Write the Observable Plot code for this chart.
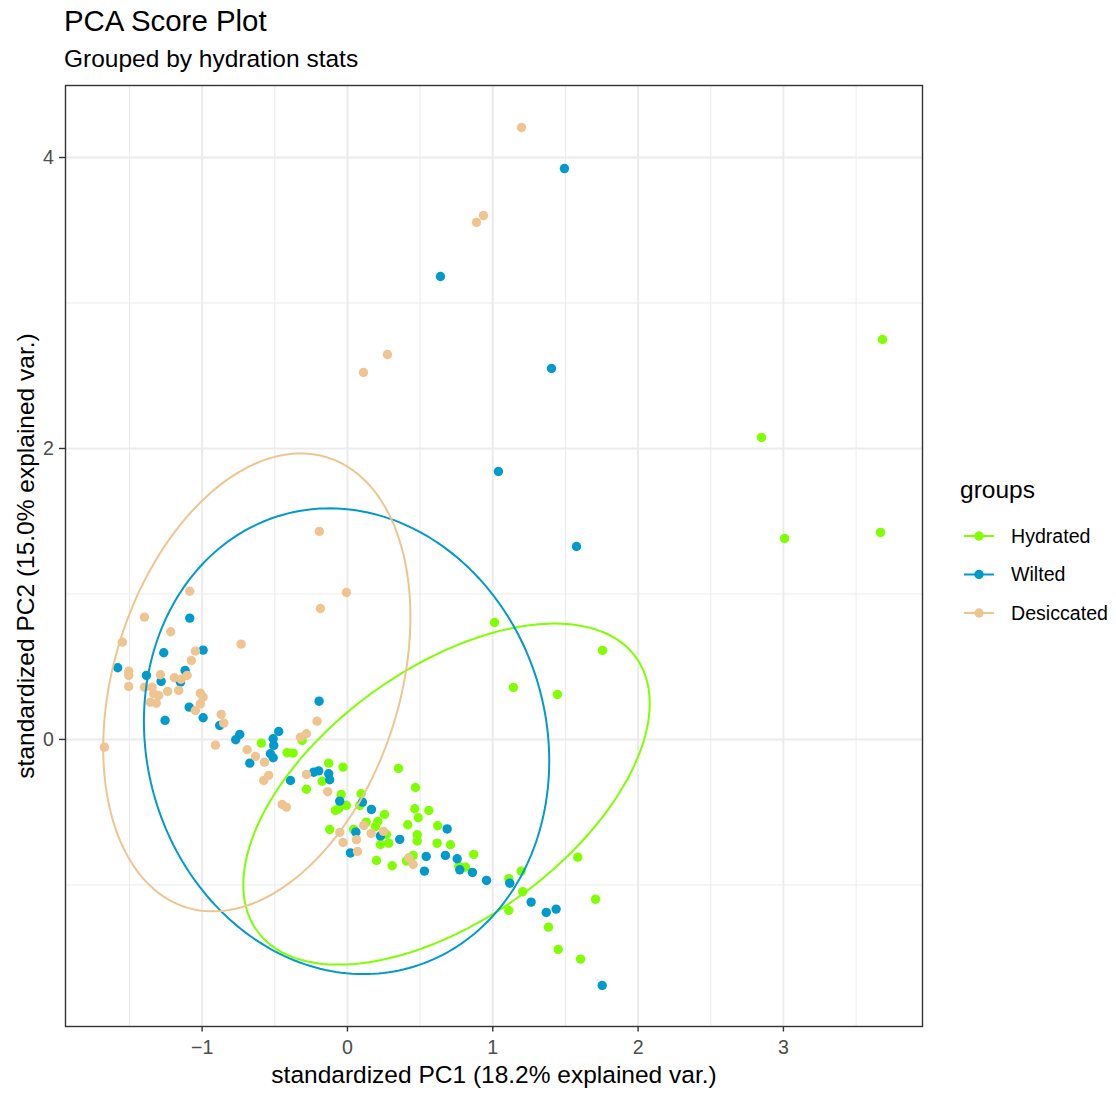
<!DOCTYPE html>
<html>
<head>
<meta charset="utf-8">
<script src="https://cdn.jsdelivr.net/npm/d3@7"></script>
<script src="https://cdn.jsdelivr.net/npm/@observablehq/plot@0.6"></script>
<style>
  html, body { margin: 0; padding: 0; background: #ffffff; }
  svg { display: block; }
</style>
</head>
<body>
<div id="chart"></div>
<script>
// ---------- data ----------
const groups = ["Hydrated", "Wilted", "Desiccated"];
const groupColors = ["#7FFF00", "#009ACD", "#EEC591"];

const hydratedPC1 = [3.682, 2.849, 3.668, 3.008, 1.012, 1.755, 1.142, 1.445, -0.592, -0.415, -0.374, -0.312, -0.282, -0.129, -0.030, -0.174, 0.351, -0.043, 0.094, 0.468, -0.007, -0.060, -0.083, 0.085, 0.255, 0.463, 0.560, 0.487, 0.129, 0.209, 0.193, 0.415, 0.621, -0.122, 0.043, 0.268, 0.480, 0.480, 0.227, 0.284, 0.617, 0.709, 0.452, 0.406, 0.200, 0.308, 0.869, 0.766, 0.812, 1.110, 1.195, 1.206, 1.585, 1.110, 1.707, 1.383, 1.450, 1.604];
const hydratedPC2 = [2.749, 2.076, 1.423, 1.381, 0.804, 0.612, 0.357, 0.309, -0.025, -0.091, -0.094, -0.007, -0.342, -0.163, -0.190, -0.287, -0.199, -0.378, -0.373, -0.330, -0.454, -0.476, -0.488, -0.454, -0.515, -0.476, -0.488, -0.538, -0.568, -0.564, -0.598, -0.586, -0.593, -0.619, -0.619, -0.653, -0.655, -0.698, -0.722, -0.713, -0.713, -0.724, -0.797, -0.835, -0.832, -0.868, -0.790, -0.873, -0.878, -0.957, -0.905, -1.047, -0.809, -1.175, -1.098, -1.290, -1.443, -1.510];

const wiltedPC1 = [1.493, 0.640, 1.404, 1.039, 1.576, -1.085, -1.264, -0.993, -1.581, -1.383, -1.282, -1.117, -1.149, -1.089, -1.255, -0.993, -0.879, -0.769, -0.741, -0.473, -0.511, -0.507, -0.530, -0.511, -0.672, -0.195, -0.392, -0.232, -0.198, -0.129, -0.122, -0.053, 0.103, 0.165, 0.058, 0.227, 0.360, 0.021, 0.542, 0.686, 0.674, 0.755, 0.773, 0.860, 0.530, 0.957, 1.117, 1.264, 1.368, 1.436, 1.753];
const wiltedPC2 = [3.924, 3.182, 2.550, 1.842, 1.326, 0.834, 0.596, 0.614, 0.493, 0.440, 0.399, 0.474, 0.394, 0.222, 0.131, 0.149, 0.096, -0.002, 0.034, 0.055, 0.005, -0.041, -0.098, -0.126, -0.163, 0.263, -0.282, -0.225, -0.216, -0.236, -0.277, -0.424, -0.431, -0.481, -0.637, -0.663, -0.687, -0.780, -0.804, -0.615, -0.797, -0.820, -0.896, -0.914, -0.905, -0.969, -0.988, -1.118, -1.189, -1.166, -1.691];

const desiccatedPC1 = [1.198, 0.888, 0.936, 0.275, 0.110, -0.193, -0.007, -0.186, -1.085, -1.397, -1.216, -1.549, -0.732, -1.046, -1.074, -1.505, -1.505, -1.287, -1.103, -1.191, -1.145, -1.505, -1.397, -1.344, -1.333, -1.299, -1.237, -1.161, -1.356, -1.315, -1.012, -0.993, -1.012, -1.046, -0.869, -0.851, -1.672, -0.908, -0.690, -0.633, -0.571, -0.323, -0.282, -0.209, -0.542, -0.576, -0.449, -0.420, -0.282, -0.136, -0.053, -0.030, 0.062, 0.069, 0.163, 0.248, 0.112, 0.422, 0.452];
const desiccatedPC2 = [4.206, 3.553, 3.601, 2.646, 2.522, 1.430, 1.010, 0.900, 1.019, 0.841, 0.740, 0.669, 0.655, 0.607, 0.543, 0.469, 0.440, 0.445, 0.440, 0.424, 0.414, 0.364, 0.359, 0.359, 0.314, 0.302, 0.330, 0.337, 0.256, 0.249, 0.318, 0.291, 0.245, 0.199, 0.172, 0.112, -0.053, -0.039, -0.071, -0.117, -0.156, 0.016, 0.039, 0.126, -0.247, -0.282, -0.447, -0.465, -0.241, -0.359, -0.639, -0.708, -0.689, -0.770, -0.646, -0.632, -0.591, -0.813, -0.859];

const xTicks = [-1, 0, 1, 2, 3];
const yTicks = [0, 2, 4];
const xMinorTicks = [-1.5, -0.5, 0.5, 1.5, 2.5, 3.5];
const yMinorTicks = [-1, 1, 3];
const xDomain = [-1.94, 3.957];
const yDomain = [-1.973, 4.495];

const titleText = "PCA Score Plot";
const subtitleText = "Grouped by hydration stats";
const xLabel = "standardized PC1 (18.2% explained var.)";
const yLabel = "standardized PC2 (15.0% explained var.)";
const legendTitle = "groups";
const ellipseProb = 0.68;

// ---------- build tables ----------
const series = {
  Hydrated: [hydratedPC1, hydratedPC2],
  Wilted: [wiltedPC1, wiltedPC2],
  Desiccated: [desiccatedPC1, desiccatedPC2]
};
const points = groups.flatMap(g => series[g][0].map((x, i) => ({group: g, pc1: x, pc2: series[g][1][i]})));

// normal-data ellipse (as ggbiplot): mu + ed * circle %*% chol(Sigma)
function ellipseFor(g) {
  const [xs, ys] = series[g];
  const n = xs.length;
  const mx = d3.mean(xs), my = d3.mean(ys);
  const sxx = d3.variance(xs), syy = d3.variance(ys);
  let sxy = 0;
  for (let i = 0; i < n; i++) sxy += (xs[i] - mx) * (ys[i] - my);
  sxy /= (n - 1);
  const r11 = Math.sqrt(sxx), r12 = sxy / r11, r22 = Math.sqrt(syy - r12 * r12);
  const ed = Math.sqrt(-2 * Math.log(1 - ellipseProb));
  return d3.range(0, 241).map(k => {
    const t = -Math.PI + 2 * Math.PI * k / 240;
    const c = Math.cos(t), s = Math.sin(t);
    return {group: g, pc1: mx + ed * c * r11, pc2: my + ed * (c * r12 + s * r22)};
  });
}
const ellipses = groups.flatMap(ellipseFor);

const fmt = d => d < 0 ? "\u2212" + Math.abs(d) : String(d);
const FONT = "'Liberation Sans', Arial, Helvetica, sans-serif";

// ---------- plot ----------
const plot = Plot.plot({
  width: 1116,
  height: 1093,
  marginLeft: 65,
  marginRight: 194,
  marginTop: 85,
  marginBottom: 67,
  style: {fontFamily: FONT, background: "#ffffff", color: "#000"},
  x: {domain: xDomain},
  y: {domain: yDomain},
  color: {domain: groups, range: groupColors},
  marks: [
    Plot.ruleX(xMinorTicks, {stroke: "#EBEBEB", strokeWidth: 1}),
    Plot.ruleY(yMinorTicks, {stroke: "#EBEBEB", strokeWidth: 1}),
    Plot.ruleX(xTicks, {stroke: "#EBEBEB", strokeWidth: 2}),
    Plot.ruleY(yTicks, {stroke: "#EBEBEB", strokeWidth: 2}),
    Plot.dot(points, {x: "pc1", y: "pc2", fill: "group", r: 4.7, stroke: null}),
    Plot.line(ellipses, {x: "pc1", y: "pc2", z: "group", stroke: "group", strokeWidth: 2}),
    Plot.frame({stroke: "#333333", strokeWidth: 1.4}),
    Plot.axisX({ticks: xTicks, tickFormat: fmt, tickSize: 5.5, tickPadding: 8, fontSize: 19.6,
                fill: "#4D4D4D", stroke: "#333333", strokeWidth: 1.4, label: null}),
    Plot.axisY({ticks: yTicks, tickFormat: fmt, tickSize: 6, tickPadding: 5.5, fontSize: 19.6,
                fill: "#4D4D4D", stroke: "#333333", strokeWidth: 1.4, label: null}),
    Plot.text([xLabel], {text: d => d, frameAnchor: "bottom", textAnchor: "middle", lineAnchor: "bottom", dy: 56,
                         fontSize: 24.5, fill: "#000"}),
    Plot.text([yLabel], {text: d => d, frameAnchor: "left", textAnchor: "middle", lineAnchor: "bottom", rotate: -90, dx: -32,
                         fontSize: 24.5, fill: "#000"})
  ]
});

// ---------- title, subtitle, legend ----------
const svg = d3.select(plot);
const extra = svg.append("g").attr("font-family", FONT).attr("text-anchor", "start");
extra.append("text").attr("x", 64).attr("y", 31).attr("font-size", 29.4).attr("fill", "#000").text(titleText);
extra.append("text").attr("x", 64).attr("y", 67).attr("font-size", 24.5).attr("fill", "#000").text(subtitleText);

const legend = extra.append("g");
legend.append("text").attr("x", 960).attr("y", 498).attr("font-size", 24.5).attr("fill", "#000").text(legendTitle);
groups.forEach((g, i) => {
  const cy = 536 + i * 38.5;
  legend.append("line").attr("x1", 964).attr("x2", 994).attr("y1", cy).attr("y2", cy)
    .attr("stroke", groupColors[i]).attr("stroke-width", 2);
  legend.append("circle").attr("cx", 979).attr("cy", cy).attr("r", 4.7).attr("fill", groupColors[i]);
  legend.append("text").attr("x", 1011).attr("y", cy + 6.7).attr("font-size", 19.6).attr("fill", "#000").text(g);
});

document.getElementById("chart").appendChild(plot);
</script>
</body>
</html>
